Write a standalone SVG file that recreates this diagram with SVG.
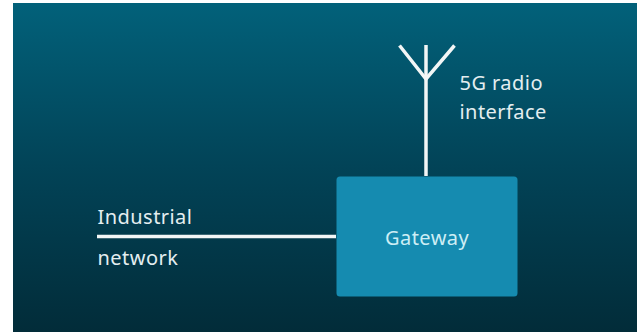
<svg xmlns="http://www.w3.org/2000/svg" width="641" height="332" viewBox="0 0 641 332">
<defs>
<linearGradient id="bg" x1="0" y1="0" x2="0" y2="1"><stop offset="0" stop-color="#02617a"/><stop offset="0.5" stop-color="#024357"/><stop offset="1" stop-color="#022c39"/></linearGradient>
</defs>
<style>
.t{font-family:"Noto Sans","Open Sans","Liberation Sans",sans-serif;font-size:20px;letter-spacing:0.45px;fill:#e4eef0}
.c{fill:none;stroke:#f2f6f6;stroke-width:3.500;stroke-linecap:butt;stroke-linejoin:miter}
</style>
<rect x="0" y="0" width="641" height="332" fill="#fff"/>
<rect x="13" y="3" width="624" height="329" fill="url(#bg)"/>
<g id="connectors">
<path class="c" d="M97 236.500H336"/>
<path class="c" d="M426 176V45"/>
<path class="c" d="M399.500 45.500L426 79L454.500 45.500"/>
</g>
<g id="gateway">
<rect x="336.500" y="176.500" width="181" height="120" rx="3.500" fill="#158bb0"/>
<text class="t" x="385" y="245" style="fill:#cdeef5">Gateway</text>
</g>
<g id="radio-label">
<text class="t" x="459.500" y="90">5G radio</text>
<text class="t" x="459.500" y="119">interface</text>
</g>
<g id="network-label">
<text class="t" x="97.500" y="224">Industrial</text>
<text class="t" x="97.500" y="265">network</text>
</g>
</svg>
